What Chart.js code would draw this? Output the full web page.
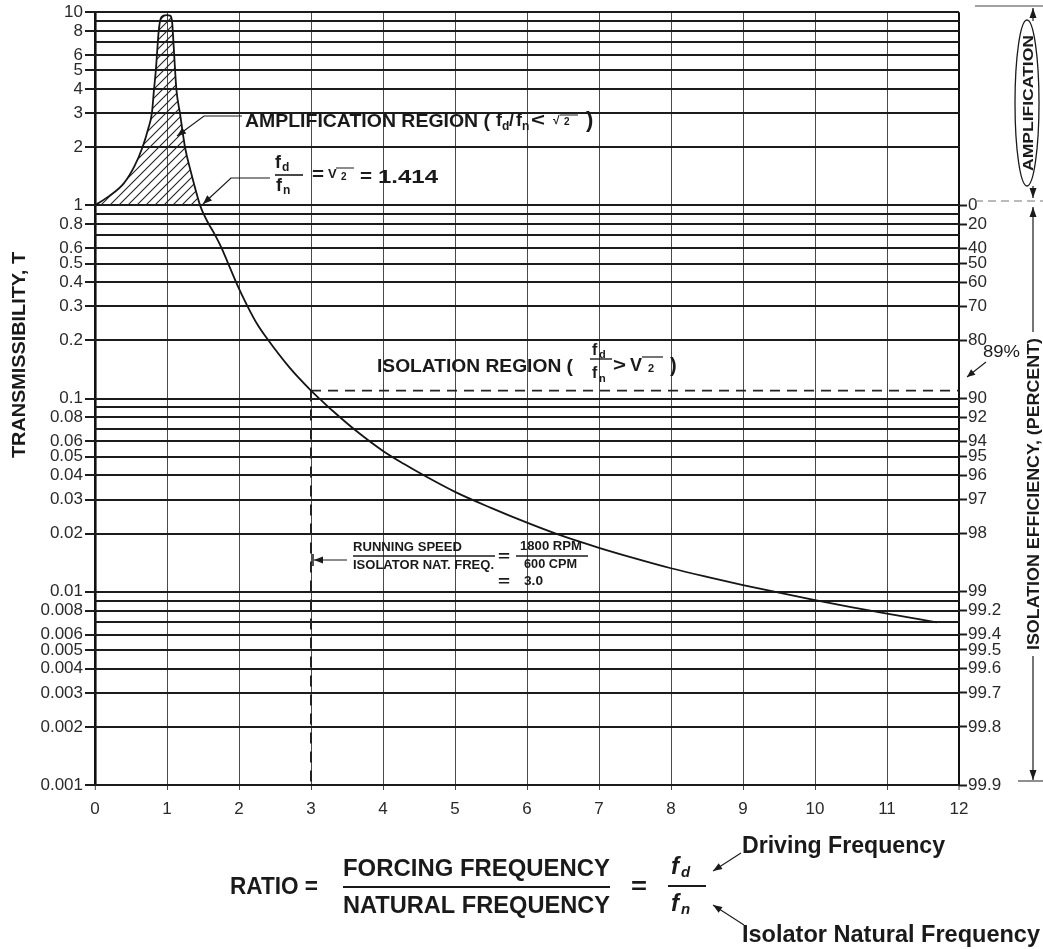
<!DOCTYPE html>
<html><head><meta charset="utf-8">
<script src="https://cdn.jsdelivr.net/npm/chart.js@4.4.1/dist/chart.umd.min.js"></script>
<style>html,body{margin:0;padding:0;background:#fff;}#wrap{width:1043px;height:949px;position:relative;}</style>
</head><body><div id="wrap"><canvas id="c"></canvas></div>
<script>
// ---------- DATA ----------
const ratio = [0, 0.2, 0.4, 0.55, 0.66, 0.74, 0.79, 0.82, 0.845, 0.86, 0.885, 0.91, 0.95, 1.0, 1.04, 1.07, 1.08, 1.10, 1.13, 1.18, 1.25, 1.33, 1.46, 1.51, 1.58, 1.67, 1.76, 1.85, 1.96, 2.11, 2.25, 2.38, 2.7, 3.0, 3.13, 3.3, 3.6, 4.0, 4.3, 4.56, 5.0, 5.5, 6.0, 6.5, 7.0, 7.5, 8.0, 8.5, 9.0, 9.5, 10.0, 10.5, 11.0, 11.69];
const transmissibility = [1.0, 1.12, 1.3, 1.6, 2.0, 2.5, 3.0, 4.0, 5.0, 6.0, 8.0, 9.2, 9.6, 9.65, 9.6, 9.0, 8.0, 6.0, 4.0, 3.0, 2.0, 1.5, 1.0, 0.9, 0.8, 0.7, 0.6, 0.5, 0.4, 0.305, 0.244, 0.207, 0.145, 0.11, 0.099, 0.0865, 0.0694, 0.0536, 0.0457, 0.0402, 0.0329, 0.0272, 0.0228, 0.0194, 0.0169, 0.0149, 0.01324, 0.01194, 0.01084, 0.00989, 0.00906, 0.00834, 0.00771, 0.00695];
const amplificationLimit = 1.46;      // curve crosses T = 1 (f_d/f_n = sqrt(2))
const runningRatio = 3.0;             // 1800 RPM / 600 CPM
const markedEfficiency = 89;          // percent
const xTicks = [0,1,2,3,4,5,6,7,8,9,10,11,12];
const yGridValues = [0.001,0.002,0.003,0.004,0.005,0.006,0.007,0.008,0.009,
  0.01,0.02,0.03,0.04,0.05,0.06,0.07,0.08,0.09,
  0.1,0.2,0.3,0.4,0.5,0.6,0.7,0.8,0.9,
  1,2,3,4,5,6,7,8,9,10];
const yLabelValues = [10,8,6,5,4,3,2,1,0.8,0.6,0.5,0.4,0.3,0.2,0.1,0.08,0.06,0.05,0.04,0.03,0.02,0.01,0.008,0.006,0.005,0.004,0.003,0.002,0.001];
const yLabelTexts = ['10','8','6','5','4','3','2','1','0.8','0.6','0.5','0.4','0.3','0.2','0.1','0.08','0.06','0.05','0.04','0.03','0.02','0.01','0.008','0.006','0.005','0.004','0.003','0.002','0.001'];
const efficiencyLabels = ['0','20','40','50','60','70','80','90','92','94','95','96','97','98','99','99.2','99.4','99.5','99.6','99.7','99.8','99.9'];
const efficiencyValues = [0,20,40,50,60,70,80,90,92,94,95,96,97,98,99,99.2,99.4,99.5,99.6,99.7,99.8,99.9];

// ---------- helpers ----------
const INK = '#1a1a1a';
const FONT = '"Liberation Sans", Arial, Helvetica, sans-serif';
const near = (a,b) => Math.abs(Math.log10(a) - Math.log10(b)) < 1e-6;

function fit(ctx, s, x, y, o){
  ctx.save();
  ctx.font = (o.italic?'italic ':'') + (o.bold?'bold ':'') + o.size + 'px ' + FONT;
  ctx.textBaseline = 'middle';
  ctx.fillStyle = o.color || INK;
  const m = ctx.measureText(s).width;
  const w = o.w || m;
  const sx = w / m;
  let left = x;
  if (o.align === 'center') left = x - w/2;
  ctx.translate(left, y); ctx.scale(sx, 1);
  ctx.textAlign = 'left';
  ctx.fillText(s, 0, 0);
  ctx.restore();
}
function poly(ctx, pts, w, dash, color){
  ctx.save(); ctx.strokeStyle = color || INK; ctx.lineWidth = w || 1.2;
  ctx.setLineDash(dash || []);
  ctx.beginPath(); ctx.moveTo(pts[0][0], pts[0][1]);
  for (let i=1;i<pts.length;i++) ctx.lineTo(pts[i][0], pts[i][1]);
  ctx.stroke(); ctx.restore();
}
function head(ctx, fx, fy, tx, ty, len, wid){
  const a = Math.atan2(ty-fy, tx-fx);
  ctx.save(); ctx.fillStyle = INK;
  ctx.beginPath(); ctx.moveTo(tx, ty);
  ctx.lineTo(tx - len*Math.cos(a) + wid*Math.sin(a), ty - len*Math.sin(a) - wid*Math.cos(a));
  ctx.lineTo(tx - len*Math.cos(a) - wid*Math.sin(a), ty - len*Math.sin(a) + wid*Math.cos(a));
  ctx.closePath(); ctx.fill(); ctx.restore();
}
function arrow(ctx, pts, w, len, wid){
  poly(ctx, pts, w);
  const n = pts.length;
  head(ctx, pts[n-2][0], pts[n-2][1], pts[n-1][0], pts[n-1][1], len||9, wid||3.5);
}
function rot(ctx, s, cx, cy, o){
  ctx.save(); ctx.translate(cx, cy); ctx.rotate(-Math.PI/2);
  fit(ctx, s, 0, 0, Object.assign({}, o, {align:'center'}));
  ctx.restore();
}

// hatch pattern
const canvas = document.getElementById('c');
const mainCtx = canvas.getContext('2d');
const tile = document.createElement('canvas'); tile.width = 9; tile.height = 9;
const tg = tile.getContext('2d');
tg.strokeStyle = '#222'; tg.lineWidth = 1.1;
tg.beginPath(); tg.moveTo(0,9); tg.lineTo(9,0); tg.moveTo(-2,2); tg.lineTo(2,-2); tg.moveTo(7,11); tg.lineTo(11,7); tg.stroke();
const hatch = mainCtx.createPattern(tile, 'repeat');

// ---------- datasets ----------
const curve = ratio.map((r,i) => ({x:r, y:transmissibility[i]}));
const ampPart = curve.filter(p => p.x <= amplificationLimit);
const markedT = 1 - markedEfficiency/100;
const hDash = [{x:runningRatio, y:markedT}, {x:xTicks[xTicks.length-1], y:markedT}];
const vDash = [{x:runningRatio, y:markedT}, {x:runningRatio, y:yGridValues[0]}];

// ---------- annotations plugin ----------
const annotations = {
  id: 'annotations',
  afterDraw(chart){
    const ctx = chart.ctx;
    ctx.save();
    // left axis title
    rot(ctx, 'TRANSMISSIBILITY, T', 20, 355, {size:18, bold:true, w:206});

    // amplification region label
    fit(ctx, 'AMPLIFICATION REGION (', 245, 122, {size:18, bold:true, w:245});
    fit(ctx, 'f', 496, 121, {size:18, bold:true});
    fit(ctx, 'd', 502, 127, {size:12, bold:true});
    fit(ctx, '/', 509, 121, {size:18, bold:true});
    fit(ctx, 'f', 516, 121, {size:18, bold:true});
    fit(ctx, 'n', 522, 127, {size:12, bold:true});
    fit(ctx, '<', 531, 121, {size:18, bold:true, w:14});
    fit(ctx, '√', 553, 121, {size:12, bold:true});
    fit(ctx, '2', 564, 122, {size:10, bold:true});
    poly(ctx, [[560,115],[578,115]], 1);
    fit(ctx, ')', 586, 121, {size:22, bold:true});
    arrow(ctx, [[242,116],[204,116],[177,136]], 1.2, 9, 3.5);

    // f_d/f_n = sqrt2 = 1.414
    fit(ctx, 'f', 275, 163, {size:18, bold:true});
    fit(ctx, 'd', 282, 168, {size:12, bold:true});
    poly(ctx, [[275,175],[303,175]], 1.6);
    fit(ctx, 'f', 276, 186, {size:18, bold:true});
    fit(ctx, 'n', 283, 191, {size:12, bold:true});
    fit(ctx, '=', 312, 175, {size:18, bold:true, w:12});
    fit(ctx, 'V', 328, 174, {size:13, bold:true});
    fit(ctx, '2', 341, 177, {size:10, bold:true});
    poly(ctx, [[336,168],[354,168]], 1);
    fit(ctx, '=', 360, 177, {size:18, bold:true, w:12});
    fit(ctx, '1.414', 378, 178, {size:18, bold:true, w:60});
    arrow(ctx, [[270,178],[231,178],[203,204]], 1.2, 9, 3.5);

    // isolation region label
    fit(ctx, 'ISOLATION REGION (', 377, 367, {size:18, bold:true, w:196});
    fit(ctx, 'f', 592, 351, {size:16, bold:true});
    fit(ctx, 'd', 599, 355, {size:11, bold:true});
    poly(ctx, [[590,359],[612,359]], 1.4);
    fit(ctx, 'f', 592, 374, {size:16, bold:true});
    fit(ctx, 'n', 599, 379, {size:11, bold:true});
    fit(ctx, '>', 613, 366, {size:18, bold:true, w:13});
    fit(ctx, 'V', 630, 366, {size:18, bold:true});
    fit(ctx, '2', 648, 369, {size:11, bold:true});
    poly(ctx, [[642,357],[663,357]], 1.2);
    fit(ctx, ')', 670, 366, {size:20, bold:true});

    // running speed annotation
    arrow(ctx, [[347,560],[314,560]], 1.2, 9, 3.5);
    poly(ctx, [[313,554],[313,566]], 1.5);
    fit(ctx, 'RUNNING SPEED', 353, 548, {size:12, bold:true, w:109});
    poly(ctx, [[353,556],[495,556]], 1.3);
    fit(ctx, 'ISOLATOR NAT. FREQ.', 353, 566, {size:12, bold:true, w:141});
    fit(ctx, '=', 498, 557, {size:14, bold:true, w:12});
    fit(ctx, '1800 RPM', 520, 547, {size:12, bold:true, w:62});
    poly(ctx, [[516,556],[588,556]], 1.3);
    fit(ctx, '600 CPM', 524, 565, {size:12, bold:true, w:53});
    fit(ctx, '=', 498, 582, {size:14, bold:true, w:12});
    fit(ctx, '3.0', 524, 582, {size:12, bold:true, w:19});

    // 89%
    fit(ctx, markedEfficiency + '%', 983, 352, {size:17, w:37});
    arrow(ctx, [[986,362],[967,377]], 1.1, 8, 3.5);

    // right side annotation
    poly(ctx, [[975,6],[1043,6]], 1.2, null, '#444');
    arrow(ctx, [[1033,21],[1033,8]], 1.2, 10, 3.5);
    ctx.save(); ctx.strokeStyle = INK; ctx.lineWidth = 1.3;
    ctx.beginPath(); ctx.ellipse(1027, 103, 12, 83, 0, 0, Math.PI*2); ctx.stroke(); ctx.restore();
    rot(ctx, 'AMPLIFICATION', 1029, 103, {size:15, bold:true, w:136});
    arrow(ctx, [[1033,186],[1033,198]], 1.2, 10, 3.5);
    poly(ctx, [[975,201],[1043,201]], 1, [8,5], '#777');
    arrow(ctx, [[1033,332],[1033,207]], 1.2, 10, 3.5);
    rot(ctx, 'ISOLATION EFFICIENCY, (PERCENT)', 1034, 494, {size:17, bold:true, w:312});
    arrow(ctx, [[1033,656],[1033,780]], 1.2, 10, 3.5);
    poly(ctx, [[1018,781],[1043,781]], 1.2, null, '#444');

    // bottom formula
    fit(ctx, 'RATIO =', 230, 887, {size:24, bold:true, w:88});
    fit(ctx, 'FORCING FREQUENCY', 343, 869, {size:24, bold:true, w:267});
    poly(ctx, [[343,887],[610,887]], 2);
    fit(ctx, 'NATURAL FREQUENCY', 343, 906, {size:24, bold:true, w:267});
    fit(ctx, '=', 631, 887, {size:24, bold:true, w:16});
    fit(ctx, 'f', 671, 867, {size:24, bold:true, italic:true});
    fit(ctx, 'd', 681, 873, {size:15, bold:true, italic:true});
    poly(ctx, [[668,886],[706,886]], 2);
    fit(ctx, 'f', 671, 904, {size:24, bold:true, italic:true});
    fit(ctx, 'n', 681, 910, {size:15, bold:true, italic:true});
    arrow(ctx, [[741,853],[713,871]], 1.1, 9, 3.5);
    fit(ctx, 'Driving Frequency', 742, 846, {size:24, bold:true, w:203});
    arrow(ctx, [[744,925],[713,905]], 1.1, 9, 3.5);
    fit(ctx, 'Isolator Natural Frequency', 742, 935, {size:24, bold:true, w:298});
    ctx.restore();
  }
};

// ---------- chart ----------
const tickFont = {family: FONT, size: 17};
new Chart(mainCtx, {
  type: 'line',
  data: {
    datasets: [
      { label:'amplification', data: ampPart, borderWidth: 0, pointRadius: 0,
        backgroundColor: hatch, fill: {value: 1}, cubicInterpolationMode: 'monotone', order: 3 },
      { label:'transmissibility', data: curve, borderColor: '#151515', borderWidth: 1.8, pointRadius: 0,
        fill: false, cubicInterpolationMode: 'monotone', order: 1 },
      { label:'89%', data: hDash, borderColor: '#222', borderWidth: 1.6, borderDash: [10,7], pointRadius: 0, fill: false, order: 2 },
      { label:'running', data: vDash, borderColor: '#222', borderWidth: 2, borderDash: [11,8], pointRadius: 0, fill: false, order: 2 }
    ]
  },
  options: {
    responsive: true, maintainAspectRatio: false, animation: false,
    layout: { padding: { top: 11, left: 0, right: 0, bottom: 0 } },
    plugins: { legend: {display:false}, tooltip: {enabled:false} },
    scales: {
      x: {
        type: 'linear', min: xTicks[0], max: xTicks[xTicks.length-1],
        afterBuildTicks: s => { s.ticks = xTicks.map(v => ({value:v})); },
        afterFit: s => { s.height = 164; },
        border: {display:false},
        grid: {
          color: c => (c.tick && (c.tick.value === 0 || c.tick.value === 12)) ? '#111' : '#4a4a4a',
          lineWidth: c => (c.tick && c.tick.value === 0) ? 2.6 : (c.tick && c.tick.value === 12 ? 2 : 1),
          tickColor: '#444', tickLength: 5, tickWidth: 1
        },
        ticks: { font: tickFont, color: '#2a2a2a', padding: 9, autoSkip: false, maxRotation: 0 }
      },
      y: {
        type: 'logarithmic', position: 'left', min: 0.001, max: 10,
        afterBuildTicks: s => { s.ticks = yGridValues.map(v => ({value:v})); },
        afterFit: s => { s.width = 95; },
        border: {display:false},
        grid: {
          color: '#1c1c1c', lineWidth: 2, tickLength: 10, tickWidth: 2,
          tickColor: c => (c.tick && yLabelValues.some(v => near(v, c.tick.value))) ? '#1c1c1c' : 'rgba(0,0,0,0)'
        },
        ticks: {
          font: tickFont, color: '#2a2a2a', padding: 2, autoSkip: false,
          callback: (v) => { const i = yLabelValues.findIndex(u => near(u, v)); return i >= 0 ? yLabelTexts[i] : ''; }
        }
      },
      y2: {
        type: 'logarithmic', position: 'right', min: 0.001, max: 10,
        afterBuildTicks: s => { s.ticks = efficiencyValues.map(e => ({value: 1 - e/100})); },
        afterFit: s => { s.width = 84; },
        border: {display:false},
        grid: { drawOnChartArea: false, tickLength: 8, tickWidth: 2, tickColor: '#1c1c1c' },
        ticks: {
          font: tickFont, color: '#2a2a2a', padding: 1, autoSkip: false,
          callback: (v) => { const i = efficiencyValues.findIndex(e => near(1 - e/100, v)); return i >= 0 ? efficiencyLabels[i] : ''; }
        }
      }
    }
  },
  plugins: [annotations]
});
</script>
</body></html>
